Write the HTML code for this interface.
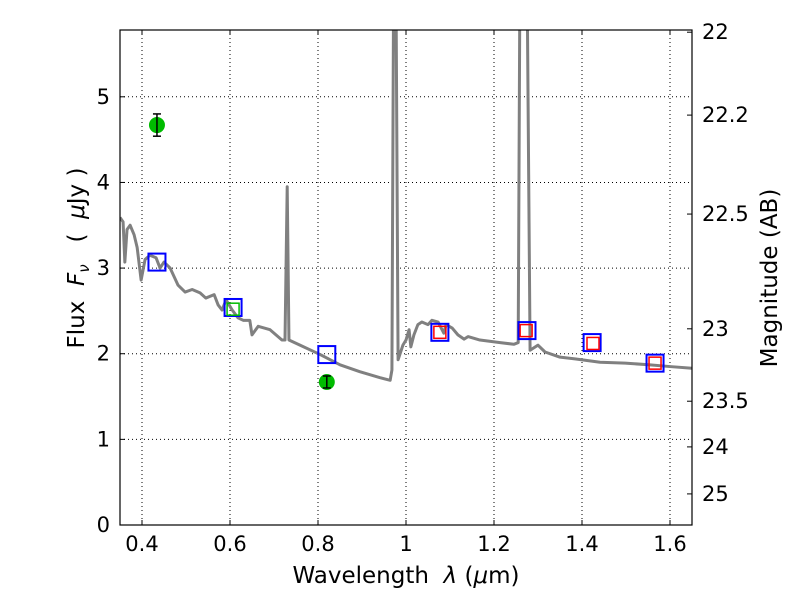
<!DOCTYPE html>
<html><head><meta charset="utf-8"><style>
body{margin:0;background:#fff}
text{font-family:"DejaVu Sans","Liberation Sans",sans-serif;fill:#000}
</style></head><body>
<svg id="c" width="800" height="600" xmlns="http://www.w3.org/2000/svg"></svg>
<script>
const wave=[.350,.357,.361,.366,.373,.382,.389,.398,.407,.418,.432,.441,.450,.464,.482,.498,.514,.532,.545,.564,.573,.582,.591,.605,.618,.630,.645,.650,.664,.691,.718,.725,.730,.734,.759,.805,.850,.895,.941,.964,.968,.972,.977,.982,.993,1.000,1.007,1.011,1.018,1.027,1.036,1.050,1.059,1.073,1.086,1.091,1.105,1.118,1.132,1.141,1.168,1.214,1.245,1.255,1.259,1.275,1.282,1.300,1.316,1.350,1.384,1.441,1.498,1.555,1.600,1.650];
const flux=[3.59,3.54,3.07,3.45,3.50,3.39,3.24,2.86,3.10,3.15,3.12,3.00,3.07,3.00,2.80,2.72,2.75,2.71,2.65,2.69,2.57,2.51,2.63,2.51,2.42,2.39,2.39,2.22,2.32,2.28,2.16,2.16,3.95,2.16,2.10,1.99,1.87,1.79,1.72,1.69,1.81,6.5,6.5,1.93,2.10,2.16,2.28,2.08,2.22,2.34,2.37,2.34,2.39,2.37,2.24,2.34,2.30,2.22,2.17,2.20,2.16,2.13,2.11,2.13,6.5,6.5,2.04,2.10,2.02,1.96,1.94,1.90,1.89,1.87,1.85,1.83];
const blueX=[0.434,0.607,0.820,1.077,1.275,1.423,1.566];
const blueY=[3.07,2.54,1.99,2.25,2.27,2.13,1.89];
const redX=[1.077,1.273,1.425,1.566];
const redY=[2.25,2.27,2.12,1.89];
const greenBoxX=[0.607];
const greenBoxY=[2.52];
const dotX=[0.434,0.820];
const dotY=[4.67,1.67];
const dotErr=[0.13,0.07];
const xTicks=[0.4,0.6,0.8,1,1.2,1.4,1.6];
const yTicks=[0,1,2,3,4,5];
const magTicks=[22,22.2,22.5,23,23.5,24,25];

const L=120,R=692,T=30,B=525,X0=0.35,X1=1.65,Y0=0,Y1=5.78;
const sx=v=>L+(v-X0)/(X1-X0)*(R-L);
const sy=v=>B-(v-Y0)/(Y1-Y0)*(B-T);
const NS="http://www.w3.org/2000/svg",svg=document.getElementById('c');
function mk(t,a,p){const e=document.createElementNS(NS,t);for(const k in a)e.setAttribute(k,a[k]);(p||svg).appendChild(e);return e;}
const defs=mk('defs',{});const cp=mk('clipPath',{id:'cp'},defs);mk('rect',{x:L,y:T,width:R-L,height:B-T},cp);
xTicks.forEach(v=>{const x=sx(v);
 const g=mk('line',{x1:x,x2:x,y1:T,y2:B,stroke:'#000','stroke-dasharray':'1,3','stroke-width':1});
 
 mk('line',{x1:x,x2:x,y1:B,y2:B-5,stroke:'#000'});mk('line',{x1:x,x2:x,y1:T,y2:T+5,stroke:'#000'});
 const t=mk('text',{x:x,y:B+26,'text-anchor':'middle','font-size':21});t.textContent=String(v);
 });
yTicks.forEach(v=>{const y=sy(v);
 const g=mk('line',{x1:L,x2:R,y1:y,y2:y,stroke:'#000','stroke-dasharray':'1,3','stroke-width':1});
 
 mk('line',{x1:L,x2:L+5,y1:y,y2:y,stroke:'#000'});
 const t=mk('text',{x:L-10,y:y+7,'text-anchor':'end','font-size':21});t.textContent=String(v);
 });
magTicks.forEach(m=>{const y=sy(Math.pow(10,(23.9-m)/2.5));
 mk('line',{x1:R,x2:R-5,y1:y,y2:y,stroke:'#000'});
 const t=mk('text',{x:R+10,y:y+7,'font-size':21});t.textContent=String(m);
 });
const g=mk('g',{'clip-path':'url(#cp)'});
const pl=mk('polyline',{points:wave.map((w,i)=>sx(w)+','+sy(flux[i])).join(' '),fill:'none',stroke:'#808080','stroke-width':3,'stroke-linejoin':'round'},g);

blueX.forEach((v,i)=>{const r=mk('rect',{x:sx(v)-8.5,y:sy(blueY[i])-8.5,width:17,height:17,fill:'none',stroke:'#0000ff','stroke-width':2},g);
 });
redX.forEach((v,i)=>{const r=mk('rect',{x:sx(v)-6,y:sy(redY[i])-6,width:12,height:12,fill:'none',stroke:'#ff0000','stroke-width':1.5},g);
 });
greenBoxX.forEach((v,i)=>{const r=mk('rect',{x:sx(v)-6,y:sy(greenBoxY[i])-6,width:12,height:12,fill:'none',stroke:'#00bb00','stroke-width':1.5},g);
 });
dotX.forEach((v,i)=>{const x=sx(v),y=sy(dotY[i]);
 const c=mk('circle',{cx:x,cy:y,r:8,fill:'#00bb00'},g);
 
 const y1=sy(dotY[i]+dotErr[i]),y2=sy(dotY[i]-dotErr[i]);
 mk('line',{x1:x,x2:x,y1:y1,y2:y2,stroke:'#000','stroke-width':1.5},g);
 mk('line',{x1:x-4,x2:x+4,y1:y1,y2:y1,stroke:'#000','stroke-width':1.5},g);
 mk('line',{x1:x-4,x2:x+4,y1:y2,y2:y2,stroke:'#000','stroke-width':1.5},g);});
const fr=mk('rect',{x:L,y:T,width:R-L,height:B-T,fill:'none',stroke:'#000','stroke-width':1.2});

</script>
<svg width="800" height="600" style="position:absolute;left:0;top:0" xmlns="http://www.w3.org/2000/svg">
<text x="406" y="583" text-anchor="middle" font-size="23" xml:space="preserve">Wavelength  <tspan font-style="italic">λ</tspan> (<tspan font-style="italic">μ</tspan>m)</text>
<text transform="translate(84,258) rotate(-90)" text-anchor="middle" font-size="23" xml:space="preserve">Flux  <tspan font-style="italic">F</tspan><tspan font-style="italic" font-size="15" dy="5">ν</tspan><tspan dy="-5">   (  </tspan><tspan font-style="italic">μ</tspan>Jy )</text>
<text transform="translate(777,278) rotate(-90)" text-anchor="middle" font-size="23">Magnitude (AB)</text>
</svg>
</body></html>
